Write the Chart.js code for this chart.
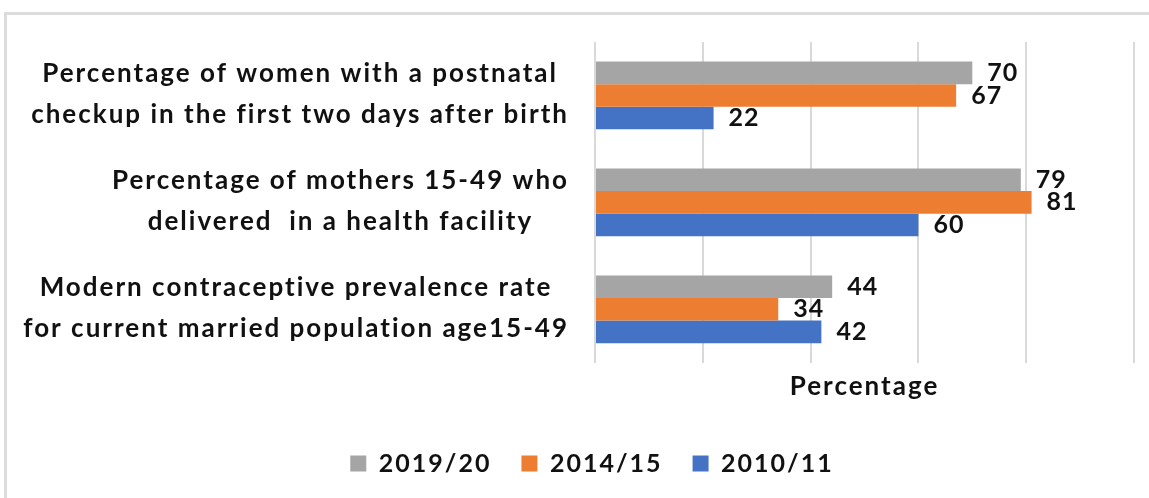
<!DOCTYPE html>
<html>
<head>
<meta charset="utf-8">
<script src="https://cdn.jsdelivr.net/npm/chart.js@4.4.0/dist/chart.umd.min.js"></script>
<style>
  html, body { margin: 0; padding: 0; background: #fff; overflow: hidden; }
  #wrap { position: relative; width: 1149px; height: 498px; }
  #frame {
    position: absolute; left: 4px; top: 12px; width: 1200px; height: 600px;
    border: 3px solid #dcdcdc; box-sizing: border-box;
  }
  #chart { position: absolute; left: 0; top: 0; }
</style>
</head>
<body>
<div id="wrap">
  <div id="frame"></div>
  <canvas id="chart" width="1149" height="498"></canvas>
</div>
<script>
// ── DATA ─────────────────────────────
const categories = [
  ["Percentage of women with a postnatal", "checkup in the first two days after birth"],
  ["Percentage of mothers 15-49 who", "delivered  in a health facility"],
  ["Modern contraceptive prevalence rate", "for current married population age15-49"]
];
const seriesNames = ["2019/20", "2014/15", "2010/11"];
const values2019 = [70, 79, 44];
const values2014 = [67, 81, 34];
const values2010 = [22, 60, 42];
const seriesColors = ["#a5a5a5", "#ed7d31", "#4472c4"];

const FONT = "Lato, 'Open Sans', sans-serif";
const TEXT_COLOR = "#111";
const SPACING = "2px";

// ── PLUGINS ─────────────────────────────
// the source text is drawn a little wide, so space the letters out everywhere
const letterSpacing = {
  id: "letterSpacing",
  beforeUpdate(chart) { chart.ctx.letterSpacing = SPACING; },
  beforeDraw(chart) { chart.ctx.letterSpacing = SPACING; }
};

// category labels: each block right-aligned to the axis, lines centred on each other
const categoryLabels = {
  id: "categoryLabels",
  afterDraw(chart) {
    const ctx = chart.ctx;
    const y = chart.scales.y;
    const right = y.right - 26;
    const lineGap = 41;
    ctx.save();
    ctx.letterSpacing = SPACING;
    ctx.font = "bold 26px " + FONT;
    ctx.fillStyle = TEXT_COLOR;
    ctx.textAlign = "center";
    ctx.textBaseline = "middle";
    categories.forEach((lines, i) => {
      const cy = y.getPixelForValue(i) - 1;
      const widest = Math.max(...lines.map(l => ctx.measureText(l).width));
      const cx = right - widest / 2;
      lines.forEach((l, j) => {
        ctx.fillText(l, cx, cy + (j - (lines.length - 1) / 2) * lineGap);
      });
    });
    ctx.restore();
  }
};

// value labels just past the end of each bar
const valueLabels = {
  id: "valueLabels",
  afterDatasetsDraw(chart) {
    const ctx = chart.ctx;
    ctx.save();
    ctx.letterSpacing = "1px";
    ctx.font = "bold 25px " + FONT;
    ctx.fillStyle = TEXT_COLOR;
    ctx.textAlign = "left";
    ctx.textBaseline = "middle";
    chart.data.datasets.forEach((ds, di) => {
      const meta = chart.getDatasetMeta(di);
      meta.data.forEach((bar, i) => {
        ctx.fillText(String(ds.data[i]), bar.x + 15, bar.y);
      });
    });
    ctx.restore();
  }
};

// ── CHART ─────────────────────────────
new Chart(document.getElementById("chart").getContext("2d"), {
  type: "bar",
  data: {
    labels: categories,
    datasets: [
      { label: seriesNames[0], data: values2019, backgroundColor: seriesColors[0] },
      { label: seriesNames[1], data: values2014, backgroundColor: seriesColors[1] },
      { label: seriesNames[2], data: values2010, backgroundColor: seriesColors[2] }
    ]
  },
  options: {
    indexAxis: "y",
    responsive: false,
    animation: false,
    devicePixelRatio: 1,
    categoryPercentage: 0.633,
    barPercentage: 1.0,
    layout: { padding: { top: 42, left: 50, right: 15, bottom: 12 } },
    scales: {
      x: {
        min: 0,
        max: 100,
        ticks: { display: false, stepSize: 20 },
        grid: { color: "#d9d9d9", lineWidth: 2, drawTicks: false },
        border: { display: false },
        title: {
          display: true,
          text: "Percentage",
          color: TEXT_COLOR,
          font: { family: FONT, size: 26, weight: "bold" },
          padding: { top: 8, bottom: 19 }
        }
      },
      y: {
        ticks: { display: false },
        grid: { display: false },
        border: { display: false },
        afterFit(scale) { scale.width = 545; }
      }
    },
    plugins: {
      tooltip: { enabled: false },
      legend: {
        position: "bottom",
        labels: {
          boxWidth: 16,
          boxHeight: 16,
          padding: 30,
          color: TEXT_COLOR,
          font: { family: FONT, size: 25, weight: "bold" }
        }
      }
    }
  },
  plugins: [letterSpacing, categoryLabels, valueLabels]
});
</script>
</body>
</html>
